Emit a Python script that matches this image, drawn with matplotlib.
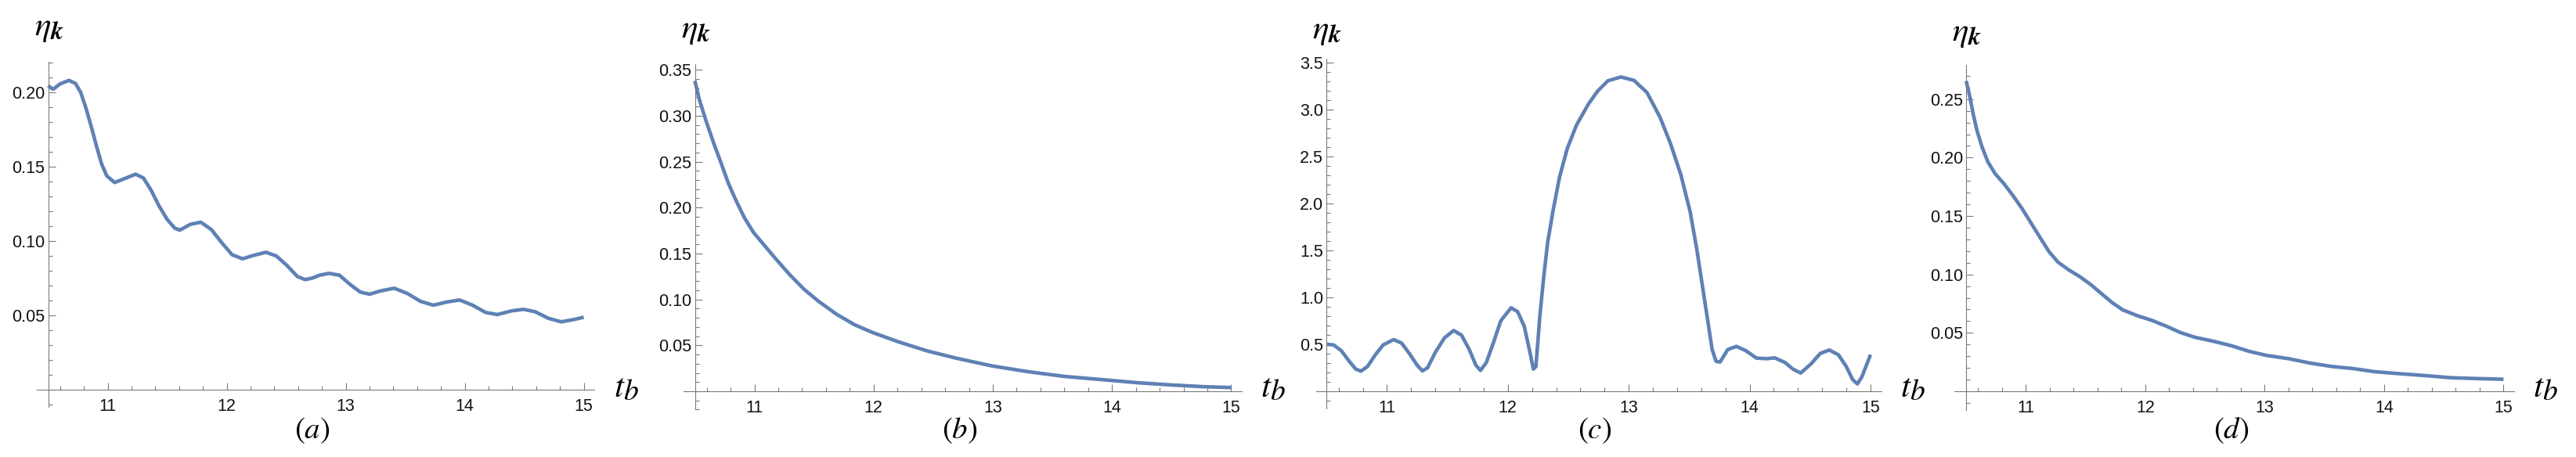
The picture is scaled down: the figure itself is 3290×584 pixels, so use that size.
import matplotlib
matplotlib.use('Agg')
import matplotlib.pyplot as plt
from matplotlib.ticker import FixedLocator, MultipleLocator, FormatStrFormatter

plt.rcParams.update({
    'mathtext.fontset': 'stix',
    'font.family': ['Liberation Sans', 'DejaVu Sans'],
})

# ── values ────────────────────────────────────────────────────────────────────
t_a = [10.500, 10.533, 10.544, 10.599, 10.675, 10.730, 10.774, 10.818, 10.862,
       10.906, 10.950, 10.993, 11.059, 11.125, 11.235, 11.300, 11.366, 11.432,
       11.498, 11.564, 11.607, 11.695, 11.783, 11.871, 11.958, 12.046, 12.134,
       12.221, 12.331, 12.419, 12.507, 12.594, 12.660, 12.727, 12.781, 12.859,
       12.947, 13.035, 13.123, 13.200, 13.298, 13.408, 13.518, 13.628, 13.737,
       13.847, 13.957, 14.066, 14.176, 14.274, 14.395, 14.493, 14.592, 14.702,
       14.812, 14.921, 15.000]
eta_a = [0.2047, 0.2026, 0.2023, 0.2058, 0.2082, 0.2061, 0.2000, 0.1895, 0.1772,
         0.1640, 0.1518, 0.1439, 0.1395, 0.1416, 0.1451, 0.1426, 0.1342, 0.1237,
         0.1149, 0.1088, 0.1075, 0.1114, 0.1128, 0.1079, 0.0991, 0.0909, 0.0882,
         0.0904, 0.0926, 0.0900, 0.0837, 0.0763, 0.0742, 0.0754, 0.0772, 0.0784,
         0.0772, 0.0711, 0.0658, 0.0644, 0.0667, 0.0684, 0.0649, 0.0596, 0.0570,
         0.0591, 0.0605, 0.0570, 0.0521, 0.0507, 0.0532, 0.0542, 0.0526, 0.0482,
         0.0458, 0.0474, 0.0489]

t_b = [10.500, 10.536, 10.597, 10.658, 10.718, 10.779, 10.840, 10.915, 10.991,
       11.082, 11.173, 11.295, 11.416, 11.537, 11.689, 11.840, 11.992, 12.204,
       12.447, 12.690, 12.993, 13.296, 13.599, 13.903, 14.206, 14.509, 14.752,
       15.000]
eta_b = [0.338, 0.318, 0.293, 0.270, 0.249, 0.227, 0.209, 0.189, 0.173,
         0.159, 0.145, 0.127, 0.111, 0.098, 0.0838, 0.0724, 0.0639, 0.0540,
         0.0440, 0.0361, 0.0276, 0.0213, 0.0162, 0.0128, 0.0094, 0.0068, 0.0051,
         0.0040]

t_c = [10.500, 10.558, 10.623, 10.688, 10.742, 10.785, 10.839, 10.904, 10.969,
       11.055, 11.120, 11.185, 11.249, 11.293, 11.336, 11.401, 11.476, 11.552,
       11.617, 11.681, 11.735, 11.774, 11.822, 11.876, 11.941, 12.027, 12.081,
       12.135, 12.178, 12.211, 12.232, 12.265, 12.297, 12.329, 12.373, 12.427,
       12.491, 12.567, 12.665, 12.741, 12.827, 12.935, 13.043, 13.151, 13.259,
       13.345, 13.431, 13.507, 13.561, 13.604, 13.647, 13.690, 13.722, 13.755,
       13.819, 13.890, 13.970, 14.056, 14.142, 14.207, 14.293, 14.358, 14.422,
       14.508, 14.584, 14.659, 14.734, 14.799, 14.852, 14.891, 14.928, 15.000]
eta_c = [0.500, 0.494, 0.431, 0.319, 0.236, 0.214, 0.264, 0.389, 0.494,
         0.550, 0.514, 0.403, 0.278, 0.217, 0.250, 0.417, 0.569, 0.647,
         0.597, 0.444, 0.278, 0.222, 0.306, 0.500, 0.750, 0.889, 0.847,
         0.694, 0.444, 0.236, 0.264, 0.806, 1.222, 1.583, 1.917, 2.278,
         2.583, 2.833, 3.056, 3.194, 3.306, 3.347, 3.311, 3.181, 2.917,
         2.639, 2.306, 1.917, 1.528, 1.167, 0.806, 0.444, 0.319, 0.311,
         0.444, 0.478, 0.431, 0.353, 0.347, 0.356, 0.306, 0.236, 0.194,
         0.292, 0.403, 0.439, 0.389, 0.264, 0.125, 0.078, 0.153, 0.390]

t_d = [10.500, 10.530, 10.560, 10.590, 10.630, 10.681, 10.741, 10.817, 10.892,
       10.968, 11.043, 11.118, 11.194, 11.269, 11.360, 11.450, 11.541, 11.631,
       11.722, 11.812, 11.933, 12.054, 12.174, 12.295, 12.416, 12.566, 12.717,
       12.868, 13.019, 13.200, 13.381, 13.562, 13.743, 13.924, 14.136, 14.346,
       14.557, 14.768, 15.000]
eta_d = [0.2656, 0.2522, 0.2366, 0.2232, 0.2098, 0.1964, 0.1864, 0.1775, 0.1674,
         0.1563, 0.1440, 0.1317, 0.1194, 0.1105, 0.1038, 0.0982, 0.0915, 0.0837,
         0.0759, 0.0696, 0.0647, 0.0607, 0.0558, 0.0502, 0.0462, 0.0429, 0.0391,
         0.0342, 0.0306, 0.0279, 0.0241, 0.0212, 0.0194, 0.0167, 0.0150, 0.0134,
         0.0116, 0.0109, 0.0103]

xticks = [11, 12, 13, 14, 15]
yticks_a = [0.05, 0.10, 0.15, 0.20]
yticks_b = [0.05, 0.10, 0.15, 0.20, 0.25, 0.30, 0.35]
yticks_c = [0.5, 1.0, 1.5, 2.0, 2.5, 3.0, 3.5]
yticks_d = [0.05, 0.10, 0.15, 0.20, 0.25]
letters = ['a', 'b', 'c', 'd']

# ── layout (pixels of the 3290x584 canvas) ────────────────────────────────────
W, H = 3290, 584
LINE = '#5E81B5'
AXC = '#7a7a7a'

panels = [
    dict(t=t_a, y=eta_a, yt=yticks_a, minor=0.01, fmt='%.2f',
         x0=61.5, sx=152.0, xlim=(10.405, 15.09),
         y0=498.3, sy=1900.0, ylim=(-0.0114, 0.2207), eta_base=45),
    dict(t=t_b, y=eta_b, yt=yticks_b, minor=0.01, fmt='%.2f',
         x0=887.5, sx=152.2, xlim=(10.403, 15.09),
         y0=500.0, sy=1174.0, ylim=(-0.020, 0.3557), eta_base=48),
    dict(t=t_c, y=eta_c, yt=yticks_c, minor=0.1, fmt='%.1f',
         x0=1694.2, sx=154.4, xlim=(10.414, 15.09),
         y0=500.0, sy=120.0, ylim=(-0.18, 3.54), eta_base=49),
    dict(t=t_d, y=eta_d, yt=yticks_d, minor=0.01, fmt='%.2f',
         x0=2511.2, sx=152.5, xlim=(10.403, 15.09),
         y0=500.0, sy=1493.0, ylim=(-0.0158, 0.2795), eta_base=52),
]

fig = plt.figure(figsize=(W / 100, H / 100), dpi=100)


def fx(px):
    return px / W


def fy(py):
    return 1 - py / H


for p, letter in zip(panels, letters):
    left = p['x0'] - (10.5 - p['xlim'][0]) * p['sx']
    right = p['x0'] + (p['xlim'][1] - 10.5) * p['sx']
    top = p['y0'] - p['ylim'][1] * p['sy']
    bottom = p['y0'] - p['ylim'][0] * p['sy']
    ax = fig.add_axes([fx(left), fy(bottom), (right - left) / W, (bottom - top) / H])
    ax.set_facecolor('none')

    ax.plot(p['t'], p['y'], color=LINE, lw=3.3, solid_capstyle='butt',
            solid_joinstyle='round', clip_on=False)
    ax.set_xlim(*p['xlim'])
    ax.set_ylim(*p['ylim'])

    for s in ('top', 'right'):
        ax.spines[s].set_visible(False)
    ax.spines['left'].set_position(('data', 10.5))
    ax.spines['bottom'].set_position(('data', 0.0))
    for s in ('left', 'bottom'):
        ax.spines[s].set_color(AXC)
        ax.spines[s].set_linewidth(0.8)

    ax.xaxis.set_major_locator(FixedLocator(xticks))
    ax.xaxis.set_minor_locator(MultipleLocator(0.2))
    ax.xaxis.set_major_formatter(FormatStrFormatter('%d'))
    ax.yaxis.set_major_locator(FixedLocator(p['yt']))
    ax.yaxis.set_minor_locator(MultipleLocator(p['minor']))
    ax.yaxis.set_major_formatter(FormatStrFormatter(p['fmt']))

    ax.tick_params(which='both', direction='in', color=AXC, width=0.8,
                   labelcolor='#111111', labelsize=15.5)
    ax.tick_params(which='major', length=6.2)
    ax.tick_params(which='minor', length=3.6)
    ax.tick_params(axis='x', pad=8)
    ax.tick_params(axis='y', pad=3)

    # η_k above the vertical axis
    ex = p['x0'] - 18
    fig.text(fx(ex), fy(p['eta_base']), r'$\eta$', fontsize=31,
             ha='left', va='baseline')
    fig.text(fx(ex + 21), fy(p['eta_base'] + 5), 'k', fontsize=23,
             family='STIXGeneral', style='italic', weight='bold',
             ha='left', va='baseline')

    # t_b at the end of the horizontal axis
    tx = p['x0'] + 4.5 * p['sx'] + 38
    fig.text(fx(tx), fy(507), r'$t$', fontsize=31, ha='left', va='baseline')
    fig.text(fx(tx + 12), fy(511), r'$b$', fontsize=27, ha='left', va='baseline')

    # panel letter
    cx = p['x0'] + 2.22 * p['sx']
    fig.text(fx(cx), fy(560), rf'$({letter})$', fontsize=28,
             ha='center', va='baseline')

fig.savefig('out.png', dpi=100, facecolor='white')
